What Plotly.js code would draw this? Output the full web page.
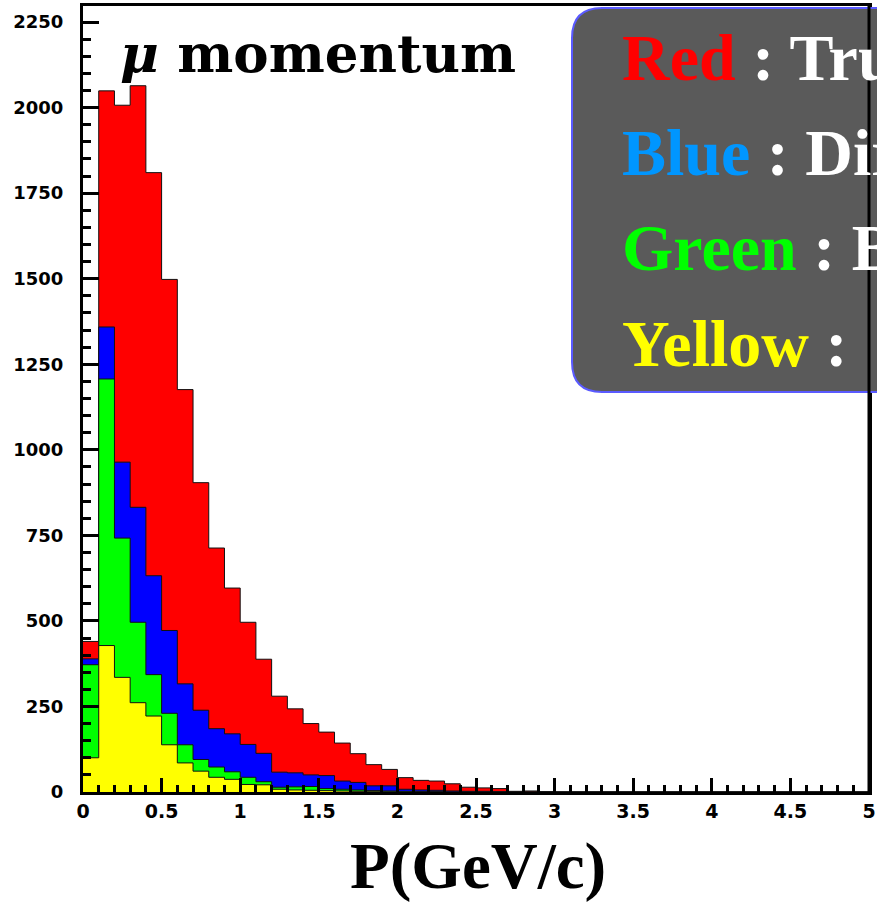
<!DOCTYPE html>
<html>
<head>
<meta charset="utf-8">
<script src="https://cdn.plot.ly/plotly-3.0.1.min.js"></script>
<style>
  html, body { margin: 0; padding: 0; background: #ffffff; }
  #chart { width: 877px; height: 904px; }
</style>
</head>
<body>
<div id="chart"></div>
<script>
// Histogram: mu momentum, 50 bins of 0.1 GeV/c from 0 to 5
const binWidth = 0.1;
const nBins = 50;

// Red : all (true) muons
const redCounts = [440, 2049, 2007, 2064, 1810, 1498, 1176, 904, 713, 596,
                   496, 388, 280, 243, 200, 175, 143, 112, 80, 66,
                   42, 34, 32, 24, 14, 12, 10, 2, 3, 1,
                   0, 0, 0, 0, 0, 0, 0, 0, 0, 0,
                   0, 0, 0, 0, 0, 0, 0, 0, 0, 0];
// Blue
const blueCounts = [389, 1359, 964, 832, 632, 472, 316, 239, 185, 170,
                    139, 113, 58, 56, 50, 48, 32, 28, 18, 18,
                    8, 6, 5, 3, 2, 2, 1, 0, 0, 0,
                    0, 0, 0, 0, 0, 0, 0, 0, 0, 0,
                    0, 0, 0, 0, 0, 0, 0, 0, 0, 0];
// Green
const greenCounts = [372, 1207, 742, 496, 343, 230, 138, 95, 73, 59,
                     43, 30, 14, 15, 16, 10, 8, 6, 4, 3,
                     2, 1, 1, 0, 0, 0, 0, 0, 0, 0,
                     0, 0, 0, 0, 0, 0, 0, 0, 0, 0,
                     0, 0, 0, 0, 0, 0, 0, 0, 0, 0];
// Yellow
const yellowCounts = [100, 428, 335, 261, 222, 138, 85, 61, 43, 37,
                      22, 21, 8, 6, 5, 4, 3, 2, 2, 1,
                      0, 0, 0, 0, 0, 0, 0, 0, 0, 0,
                      0, 0, 0, 0, 0, 0, 0, 0, 0, 0,
                      0, 0, 0, 0, 0, 0, 0, 0, 0, 0];

const xTickVals = [0, 0.5, 1, 1.5, 2, 2.5, 3, 3.5, 4, 4.5, 5];
const xTickText = ["0", "0.5", "1", "1.5", "2", "2.5", "3", "3.5", "4", "4.5", "5"];
const yTickVals = [0, 250, 500, 750, 1000, 1250, 1500, 1750, 2000, 2250];
const yTickText = ["0", "250", "500", "750", "1000", "1250", "1500", "1750", "2000", "2250"];

const legendLines = [
  {label: "Red", color: "#ff0000", rest: " : True μ"},
  {label: "Blue", color: "#0096ff", rest: " : Direct μ"},
  {label: "Green", color: "#00ff00", rest: " : B decay"},
  {label: "Yellow", color: "#ffff00", rest: " :  C decay"}
];

// bin edges
const edges = [];
for (let i = 0; i <= nBins; i++) edges.push(Math.round(i * binWidth * 1000) / 1000);

function stepTrace(counts, fill) {
  return {
    type: 'scatter',
    mode: 'lines',
    x: edges,
    y: counts.concat([counts[counts.length - 1]]),
    line: {shape: 'hv', color: '#111111', width: 1},
    fill: 'tozeroy',
    fillcolor: fill,
    hoverinfo: 'skip',
    showlegend: false
  };
}

const data = [
  stepTrace(redCounts, '#ff0000'),
  stepTrace(blueCounts, '#0000ff'),
  stepTrace(greenCounts, '#00ff00'),
  stepTrace(yellowCounts, '#ffff00')
];

const L = 83, R = 8, T = 6, B = 112;
const W = 877, H = 904;
const pw = W - L - R, ph = H - T - B;
function px2x(p) { return (p - L) / pw; }
function py2y(p) { return (T + ph - p) / ph; }

// legend box (rounded left corners, extends beyond right edge)
const bx0 = px2x(572), bx1 = px2x(930), by0 = py2y(392), by1 = py2y(8);
const rx = 30 / pw, ry = 30 / ph;
const boxPath = `M ${bx0 + rx} ${by1} L ${bx1} ${by1} L ${bx1} ${by0} L ${bx0 + rx} ${by0} ` +
  `Q ${bx0} ${by0} ${bx0} ${by0 + ry} L ${bx0} ${by1 - ry} Q ${bx0} ${by1} ${bx0 + rx} ${by1} Z`;

const serif = 'Liberation Serif, Times New Roman, serif';
const annotations = [
  {
    xref: 'paper', yref: 'paper', x: px2x(118), y: py2y(53),
    xanchor: 'left', yanchor: 'middle', showarrow: false,
    text: '<i>μ</i> momentum',
    font: {family: 'DejaVu Serif, serif', size: 53, color: '#000000', weight: 700}
  },
  {
    xref: 'paper', yref: 'paper', x: px2x(478.5), y: py2y(866),
    xanchor: 'center', yanchor: 'middle', showarrow: false,
    text: 'P(GeV/c)',
    font: {family: serif, size: 65, color: '#000000', weight: 700}
  }
];
const baselines = [80, 175, 270, 366];
legendLines.forEach((ln, i) => {
  annotations.push({
    xref: 'paper', yref: 'paper', x: px2x(620), y: py2y(baselines[i] - 23),
    xanchor: 'left', yanchor: 'middle', showarrow: false, align: 'left',
    text: `<span style="color:${ln.color}">${ln.label}</span>${ln.rest}`,
    font: {family: serif, size: 66, color: '#ffffff', weight: 700}
  });
});

const yTickFont = {family: 'DejaVu Sans, Arial, sans-serif', size: 18, color: '#000000', weight: 700};
const xTickFont = {family: 'DejaVu Sans, Arial, sans-serif', size: 19, color: '#000000', weight: 700};

const layout = {
  width: W, height: H,
  margin: {l: L, r: R, t: T, b: B, pad: 0},
  paper_bgcolor: '#ffffff',
  plot_bgcolor: '#ffffff',
  showlegend: false,
  xaxis: {
    range: [0, 5], fixedrange: true,
    showgrid: false, zeroline: false,
    showline: true, linecolor: '#000000', linewidth: 3, mirror: true,
    ticks: 'inside', ticklen: 14, tickwidth: 3, tickcolor: '#000000',
    tickmode: 'array', tickvals: xTickVals, ticktext: xTickText,
    tickfont: xTickFont, ticklabelstandoff: 0,
    minor: {dtick: 0.1, tick0: 0, ticks: 'inside', ticklen: 7, tickwidth: 3, tickcolor: '#000000', showgrid: false}
  },
  yaxis: {
    range: [0, 2297], fixedrange: true,
    showgrid: false, zeroline: false,
    showline: true, linecolor: '#000000', linewidth: 3, mirror: true,
    ticks: 'inside', ticklen: 16, tickwidth: 3, tickcolor: '#000000',
    tickmode: 'array', tickvals: yTickVals, ticktext: yTickText,
    tickfont: yTickFont, ticklabelstandoff: 13,
    minor: {dtick: 50, tick0: 0, ticks: 'inside', ticklen: 8, tickwidth: 3, tickcolor: '#000000', showgrid: false}
  },
  shapes: [
    {type: 'path', xref: 'paper', yref: 'paper', path: boxPath,
     fillcolor: '#5a5a5a', line: {color: '#5a5aff', width: 2}, layer: 'above'},
    {type: 'line', xref: 'paper', yref: 'paper', x0: 1, x1: 1, y0: 0, y1: 1,
     line: {color: '#000000', width: 3}, layer: 'above'}
  ],
  annotations: annotations
};

Plotly.newPlot('chart', data, layout, {displayModeBar: false, staticPlot: true});
</script>
</body>
</html>
